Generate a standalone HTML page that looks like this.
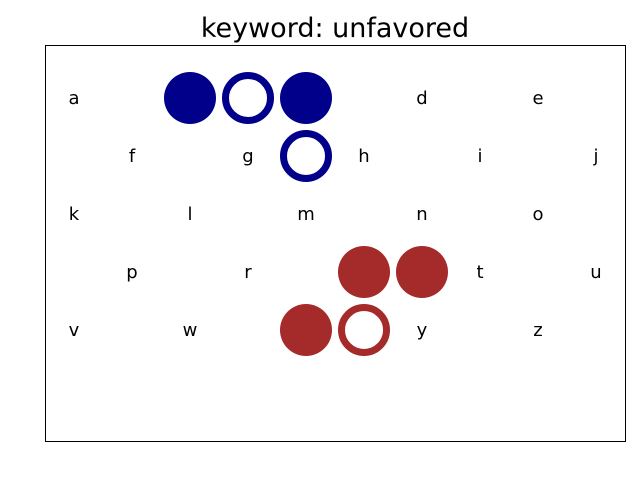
<!DOCTYPE html>
<html><head><meta charset="utf-8"><style>
html,body{margin:0;padding:0;background:#fff;}
svg{display:block;font-family:"DejaVu Sans","Liberation Sans",sans-serif;}
</style></head><body>
<svg id="chart" width="640" height="480">
<rect x="0" y="0" width="640" height="480" fill="#fff"/>
<text x="335" y="37" font-size="27" text-anchor="middle">keyword: unfavored</text>
<rect x="45.5" y="45.5" width="580" height="396" fill="none" stroke="#000" stroke-width="1"/>
<g id="marks"></g>
<g id="labels"></g>
</svg>
<script>
const letters = ["a","d","e","f","g","h","i","j","k","l","m","n","o","p","r","t","u","v","w","y","z"];
const letterCols = [0,6,8,1,3,5,7,9,0,2,4,6,8,1,3,7,9,0,2,6,8];
const letterRows = [0,0,0,1,1,1,1,1,2,2,2,2,2,3,3,3,3,4,4,4,4];
const markCols = [2,3,4,4,5,6,4,5];
const markRows = [0,0,0,1,3,3,4,4];
const markFilled = [1,0,1,0,1,1,1,0];
const markGroup = ["blue","blue","blue","blue","red","red","red","red"];
const colors = {blue:"#00008b", red:"#a52a2a"};
function xPos(c){return 74+58*c;}
function yPos(r){return 98+58*r;}
const NS="http://www.w3.org/2000/svg";
const mg=document.getElementById("marks"), lg=document.getElementById("labels");
for(let i=0;i<markCols.length;i++){
  const c=document.createElementNS(NS,"circle");
  c.setAttribute("cx",xPos(markCols[i]));
  c.setAttribute("cy",yPos(markRows[i]));
  const col=colors[markGroup[i]];
  if(markFilled[i]){c.setAttribute("r",26);c.setAttribute("fill",col);}
  else{c.setAttribute("r",22.5);c.setAttribute("fill","none");c.setAttribute("stroke",col);c.setAttribute("stroke-width",7);}
  
  
  mg.appendChild(c);
}
for(let i=0;i<letters.length;i++){
  const t=document.createElementNS(NS,"text");
  t.setAttribute("x",xPos(letterCols[i]));
  t.setAttribute("y",yPos(letterRows[i])+6);
  t.setAttribute("font-size","18");
  t.setAttribute("text-anchor","middle");
  t.textContent=letters[i];
  
  
  lg.appendChild(t);
}
</script>
</body></html>
